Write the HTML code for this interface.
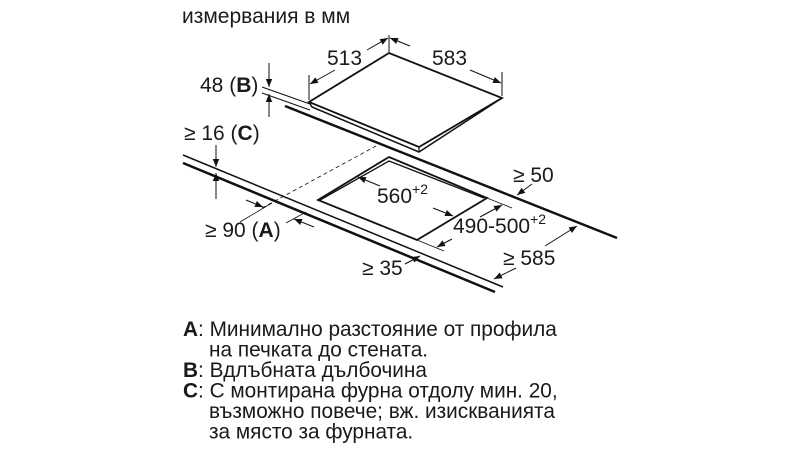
<!DOCTYPE html>
<html><head><meta charset="utf-8"><style>
html,body{margin:0;padding:0;background:#fff;}
svg{display:block;}
text{font-family:"Liberation Sans","DejaVu Sans",sans-serif;fill:#1a1a1a;}
</style></head><body>
<svg width="800" height="449" viewBox="0 0 800 449" xmlns="http://www.w3.org/2000/svg">
<defs>
<marker id="ar" viewBox="0 0 10 10" refX="10" refY="5" markerWidth="8" markerHeight="8" orient="auto-start-reverse" markerUnits="userSpaceOnUse">
<path d="M0,1 L10,5 L0,9 z" fill="#111"/></marker>
</defs>
<text x="182" y="23" font-size="21">измервания в мм</text>

<g stroke="#111" fill="none">
<line x1="262" y1="87" x2="310" y2="104" stroke-width="1"/>
<line x1="262" y1="93" x2="310" y2="110" stroke-width="1"/>
<line x1="285" y1="106" x2="617" y2="238" stroke-width="2.5"/>
<polygon points="389,53 309,102 419,147 502,98" fill="#fff" stroke-width="1.8"/>
<polyline points="309,102 312,107 419,152 502,98" stroke-width="1.5" fill="none"/>
<line x1="419" y1="147" x2="419" y2="152" stroke-width="1.2"/>
<line x1="262" y1="208" x2="376" y2="146" stroke-width="0.8" stroke-dasharray="4,3"/>
<polygon points="389,157 318,200 417,240 487,198" stroke-width="1.8"/>
<polyline points="320,200 389,161 484,198" stroke-width="1.3"/>
<line x1="183" y1="155" x2="503" y2="287" stroke-width="1.5"/>
<line x1="183" y1="163" x2="495" y2="292" stroke-width="2.5"/>

<line x1="389" y1="35" x2="389" y2="52" stroke-width="1"/>
<line x1="309" y1="75" x2="309" y2="100" stroke-width="1"/>
<line x1="502" y1="72" x2="502" y2="96" stroke-width="1"/>
<line x1="367" y1="50" x2="388" y2="38" stroke-width="1" marker-end="url(#ar)"/>
<line x1="335" y1="70" x2="310" y2="84" stroke-width="1" marker-end="url(#ar)"/>
<line x1="410" y1="46" x2="390" y2="38" stroke-width="1" marker-end="url(#ar)"/>
<line x1="470" y1="70" x2="501" y2="83" stroke-width="1" marker-end="url(#ar)"/>
<line x1="269" y1="63" x2="269" y2="87" stroke-width="1" marker-end="url(#ar)"/>
<line x1="269" y1="117" x2="269" y2="94" stroke-width="1" marker-end="url(#ar)"/>
<line x1="216" y1="145" x2="216" y2="167" stroke-width="1" marker-end="url(#ar)"/>
<line x1="216" y1="199" x2="216" y2="173" stroke-width="1" marker-end="url(#ar)"/>
<line x1="246" y1="200" x2="263" y2="207" stroke-width="1" marker-end="url(#ar)"/>
<line x1="314" y1="227" x2="294" y2="219" stroke-width="1" marker-end="url(#ar)"/>
<line x1="240" y1="222" x2="272" y2="203" stroke-width="0.8"/>
<line x1="286" y1="223" x2="306" y2="212" stroke-width="0.8"/>
<line x1="380" y1="186" x2="358" y2="177" stroke-width="1" marker-end="url(#ar)"/>
<line x1="433" y1="208" x2="453" y2="216" stroke-width="1" marker-end="url(#ar)"/>
<line x1="487" y1="198" x2="512" y2="208" stroke-width="0.8"/>
<line x1="417" y1="240" x2="444" y2="251" stroke-width="0.8"/>
<line x1="480" y1="217" x2="502" y2="205" stroke-width="1" marker-end="url(#ar)"/>
<line x1="452" y1="239" x2="437" y2="247" stroke-width="1" marker-end="url(#ar)"/>
<line x1="532" y1="184" x2="517" y2="195" stroke-width="1" marker-end="url(#ar)"/>
<line x1="545" y1="246" x2="577" y2="226" stroke-width="1" marker-end="url(#ar)"/>
<line x1="516" y1="268" x2="494" y2="279" stroke-width="1" marker-end="url(#ar)"/>
<line x1="405" y1="264" x2="420" y2="256" stroke-width="1" marker-end="url(#ar)"/>
</g>

<g font-size="21">
<text x="327" y="65">513</text>
<text x="432" y="65">583</text>
<text x="200" y="92">48 (<tspan font-weight="bold">B</tspan>)</text>
<text x="184" y="140">≥ 16 (<tspan font-weight="bold">C</tspan>)</text>
<text x="205" y="237">≥ 90 (<tspan font-weight="bold">A</tspan>)</text>
<text x="377" y="203">560<tspan font-size="14" dy="-9">+2</tspan></text>
<text x="453" y="233">490-500<tspan font-size="14" dy="-9">+2</tspan></text>
<text x="513" y="182">≥ 50</text>
<text x="503" y="265">≥ 585</text>
<text x="362" y="275">≥ 35</text>
</g>

<g font-size="20.8">
<text x="183" y="336"><tspan font-weight="bold">A</tspan>: Минимално разстояние от профила</text>
<text x="209" y="356.5">на печката до стената.</text>
<text x="183" y="377"><tspan font-weight="bold">B</tspan>: Вдлъбната дълбочина</text>
<text x="183" y="397.5"><tspan font-weight="bold">C</tspan>: С монтирана фурна отдолу мин. 20,</text>
<text x="209" y="418">възможно повече; вж. изискванията</text>
<text x="209" y="438.5">за място за фурната.</text>
</g>
</svg>
</body></html>
